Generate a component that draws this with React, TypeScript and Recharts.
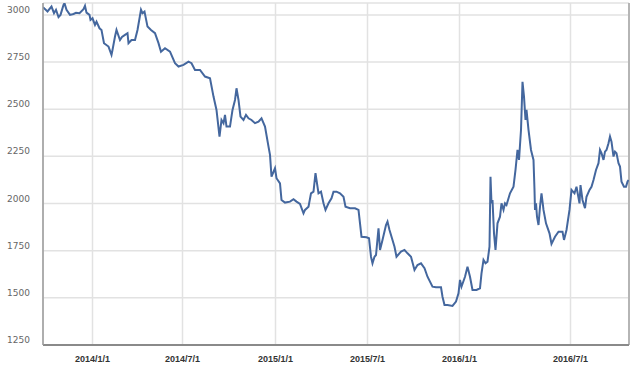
import React from 'react';
import { LineChart, Line, XAxis, YAxis, CartesianGrid, ReferenceLine } from 'recharts';

// position along the time axis (chart units, ~days from the left edge)
const days = [
  0, 9, 17, 22, 26, 31, 35, 41, 43, 47, 54, 61, 66, 73, 81, 84, 87, 93, 95, 99,
  104, 107, 113, 117, 122, 131, 137, 139, 144, 147, 154, 158, 164, 169, 171, 177, 184, 189, 196, 199,
  203, 209, 216, 224, 231, 236, 244, 254, 264, 271, 281, 291, 297, 304, 314, 324, 334, 341, 347, 353,
  357, 361, 364, 367, 374, 379, 384, 387, 391, 395, 401, 406, 411, 417, 424, 431, 437, 444, 451, 454,
  457, 464, 467, 474, 477, 484, 494, 501, 507, 514, 521, 524, 531, 536, 541, 545, 548, 551, 556, 561,
  565, 571, 577, 581, 587, 594, 601, 605, 614, 624, 631, 637, 647, 652, 656, 659, 663, 666, 671, 674,
  679, 686, 689, 693, 699, 703, 707, 716, 723, 729, 736, 743, 749, 756, 763, 769, 779, 786, 796, 799,
  803, 809, 819, 826, 831, 834, 837, 844, 849, 854, 859, 867, 874, 877, 881, 885, 889, 893, 895, 897,
  899, 902, 905, 909, 914, 917, 921, 924, 927, 934, 941, 945, 949, 952, 956, 959, 962, 965, 967, 971,
  976, 981, 983, 984, 986, 988, 991, 994, 997, 1001, 1006, 1013, 1017, 1024, 1031, 1039, 1042, 1047, 1053, 1057,
  1063, 1067, 1073, 1075, 1079, 1084, 1087, 1093, 1097, 1101, 1106, 1111, 1114, 1117, 1121, 1124, 1127, 1131, 1134, 1137,
  1141, 1144, 1147, 1151, 1154, 1157, 1162, 1166, 1169, 1171,
];

const prices = [
  3041, 3018, 3044, 3009, 3027, 2988, 3000, 3053, 3062, 3027, 3000, 3005, 3011, 3009, 3030, 3048, 3012, 3000, 2973, 2982,
  2947, 2964, 2929, 2920, 2850, 2832, 2788, 2814, 2885, 2920, 2867, 2883, 2894, 2903, 2850, 2867, 2867, 2920, 3027, 3009,
  3018, 2938, 2920, 2903, 2850, 2805, 2823, 2805, 2744, 2726, 2735, 2752, 2744, 2708, 2708, 2673, 2664, 2567, 2496, 2355,
  2443, 2426, 2470, 2408, 2408, 2496, 2549, 2611, 2549, 2461, 2443, 2470, 2452, 2443, 2426, 2434, 2452, 2408, 2302, 2258,
  2142, 2187, 2134, 2107, 2019, 2005, 2010, 2023, 2010, 1998, 1948, 1966, 1983, 2054, 2063, 2161, 2107, 2054, 2063, 2001,
  1966, 2001, 2028, 2063, 2063, 2054, 2036, 1983, 1975, 1975, 1966, 1824, 1821, 1816, 1718, 1683, 1718, 1727, 1869, 1754,
  1807, 1886, 1904, 1860, 1807, 1771, 1718, 1745, 1754, 1736, 1718, 1648, 1674, 1683, 1657, 1612, 1559, 1556, 1556, 1506,
  1462, 1462, 1457, 1480, 1524, 1595, 1559, 1612, 1665, 1612, 1542, 1542, 1551, 1630, 1701, 1683, 1692, 1771, 2142, 2001,
  2019, 1842, 1754, 1895, 1930, 2001, 1966, 2001, 1992, 2054, 2089, 2178, 2284, 2231, 2390, 2645, 2567, 2443, 2496, 2390,
  2284, 2231, 2072, 1966, 2001, 1930, 1886, 1983, 2054, 1966, 1895, 1842, 1786, 1824, 1851, 1851, 1807, 1860, 1966, 2072,
  2054, 2089, 2001, 2098, 2019, 1975, 2036, 2072, 2089, 2125, 2178, 2214, 2284, 2267, 2231, 2275, 2284, 2320, 2355, 2328,
  2249, 2275, 2267, 2214, 2196, 2116, 2089, 2089, 2116, 2125,
];

const yTicks = [1250, 1500, 1750, 2000, 2250, 2500, 2750, 3000];
const xTicks = [99, 279, 465, 649, 833, 1055];
const xLabels = ['2014/1/1', '2014/7/1', '2015/1/1', '2015/7/1', '2016/1/1', '2016/7/1'];

const data = days.map((d, i) => ({ d, price: prices[i] }));

const YTick = ({ x, y, payload }: any) => (
  <text x={x} y={y - 5} textAnchor="end" dominantBaseline="central" fontSize={9} fill="#666" fontFamily="DejaVu Sans">
    {payload.value}
  </text>
);

const XTick = ({ x, y, payload }: any) => {
  const idx = xTicks.indexOf(payload.value);
  return (
    <text x={x} y={y + 17} textAnchor="middle" fontSize={9} fontWeight="bold" fill="#333" fontFamily="Liberation Sans">
      {xLabels[idx]}
    </text>
  );
};

export default function App() {
  return (
    <div style={{ position: 'absolute', left: 0, top: 0, width: 636, height: 370, background: '#fff' }}>
      <LineChart width={636} height={370} data={data} margin={{ top: 3, right: 7, bottom: 0, left: 0 }}>
        <CartesianGrid stroke="#e2e2e2" strokeWidth={1.5} />
        <XAxis
          dataKey="d"
          type="number"
          domain={[0, 1172]}
          ticks={xTicks}
          tick={<XTick />}
          tickLine={false}
          tickSize={0}
          tickMargin={0}
          height={25}
          axisLine={{ stroke: '#8a8a8a', strokeWidth: 2 }}
          allowDataOverflow
        />
        <YAxis
          type="number"
          domain={[1250, 3063]}
          ticks={yTicks}
          tick={<YTick />}
          tickLine={false}
          tickSize={0}
          tickMargin={13}
          width={43}
          axisLine={{ stroke: '#9a9a9a', strokeWidth: 1.5 }}
          allowDataOverflow
        />
        <ReferenceLine x={1172} stroke="#b5b5b5" strokeWidth={2} />
        <Line
          type="linear"
          dataKey="price"
          stroke="#44679e"
          strokeWidth={2}
          dot={false}
          isAnimationActive={false}
        />
      </LineChart>
    </div>
  );
}
